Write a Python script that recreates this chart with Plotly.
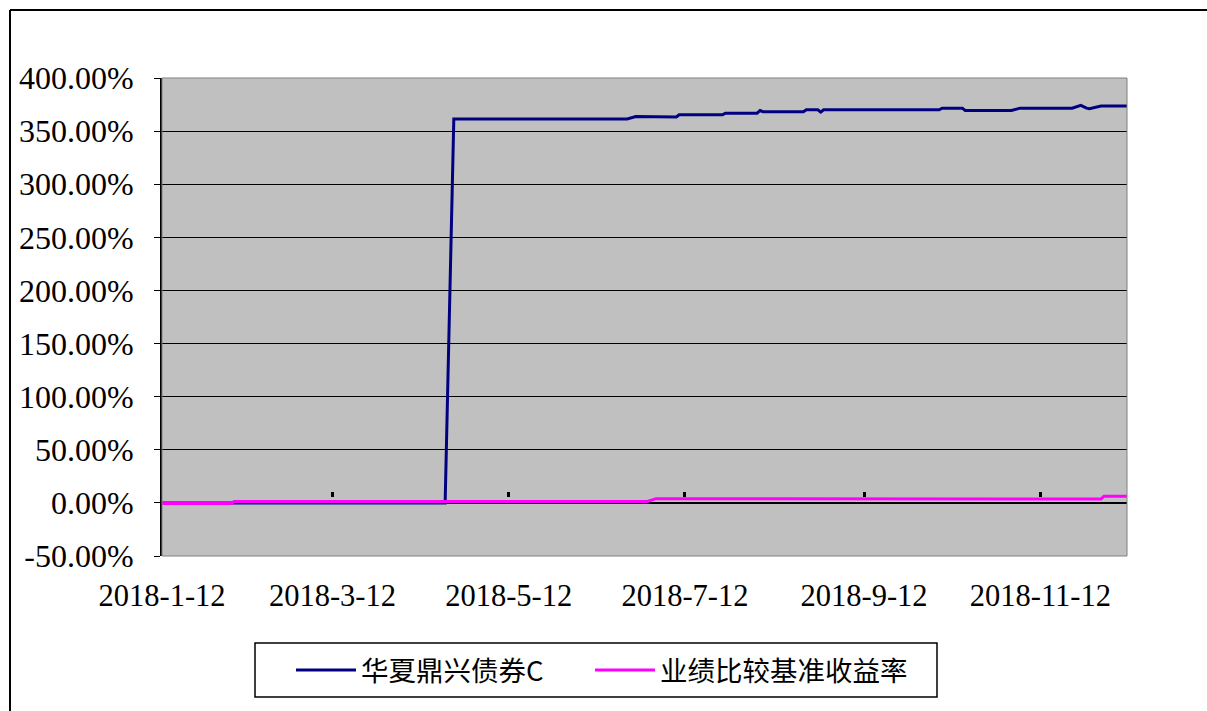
import plotly.graph_objects as go

# ---- data ----
fund_dates = ["2018-01-12", "2018-04-20", "2018-04-23", "2018-06-22", "2018-06-25",
              "2018-07-06", "2018-07-09", "2018-07-10", "2018-07-25", "2018-07-26",
              "2018-08-06", "2018-08-07", "2018-08-08", "2018-08-22", "2018-08-23",
              "2018-08-27", "2018-08-28", "2018-08-29", "2018-10-08", "2018-10-09",
              "2018-10-16", "2018-10-17", "2018-11-02", "2018-11-05", "2018-11-23",
              "2018-11-26", "2018-11-28", "2018-11-29", "2018-12-03", "2018-12-12"]
fund_values = [0.0, 0.0, 361.5, 361.5, 363.8,
               363.8, 363.3, 365.4, 365.4, 366.9,
               366.9, 369.4, 368.3, 368.3, 370.1,
               370.1, 367.9, 370.1, 370.1, 371.6,
               371.6, 369.4, 369.4, 371.6, 371.6,
               374.2, 371.6, 371.1, 373.6, 373.6]

bench_dates = ["2018-01-12", "2018-02-05", "2018-02-06", "2018-06-29", "2018-07-02",
               "2018-12-03", "2018-12-04", "2018-12-12"]
bench_values = [-0.5, -0.5, 1.3, 1.3, 4.0, 3.6, 6.2, 6.3]

fund_name = "华夏鼎兴债券C"
bench_name = "业绩比较基准收益率"

tick_dates = ["2018-01-12", "2018-03-12", "2018-05-12", "2018-07-12", "2018-09-12", "2018-11-12"]
tick_labels = ["2018-1-12", "2018-3-12", "2018-5-12", "2018-7-12", "2018-9-12", "2018-11-12"]
y_ticks = [-50, 0, 50, 100, 150, 200, 250, 300, 350, 400]
y_labels = ["-50.00%", "0.00%", "50.00%", "100.00%", "150.00%", "200.00%",
            "250.00%", "300.00%", "350.00%", "400.00%"]

x_range = ["2018-01-12", "2018-12-12"]

# ---- figure ----
fig = go.Figure()
fig.add_trace(go.Scatter(x=fund_dates, y=fund_values, mode="lines", name=fund_name,
                         line=dict(color="#000080", width=3), legend="legend"))
fig.add_trace(go.Scatter(x=bench_dates, y=bench_values, mode="lines", name=bench_name,
                         line=dict(color="#FF00FF", width=3), legend="legend2"))

serif = "Liberation Serif"
L, R, T, B = 162, 80, 78, 155
W, H = 1207, 711
pw, ph = W - L - R, H - T - B

def px_x(x):
    return (x - L) / pw

def px_y(y):
    return (H - B - y) / ph

legend_font = dict(family="Noto Sans CJK SC", size=27.5, color="black")

fig.update_layout(
    width=W, height=H,
    margin=dict(l=L, r=R, t=T, b=B, pad=0),
    paper_bgcolor="white",
    plot_bgcolor="#C0C0C0",
    showlegend=True,
    legend=dict(
        orientation="h",
        x=px_x(291), y=px_y(670), xanchor="left", yanchor="middle",
        bgcolor="rgba(0,0,0,0)", borderwidth=0,
        font=legend_font, itemwidth=60,
    ),
    legend2=dict(
        orientation="h",
        x=px_x(590), y=px_y(670), xanchor="left", yanchor="middle",
        bgcolor="rgba(0,0,0,0)", borderwidth=0,
        font=legend_font, itemwidth=60,
    ),
    xaxis=dict(
        type="date", range=x_range,
        tickvals=tick_dates, ticktext=tick_labels,
        ticks="", showgrid=False, zeroline=False, showline=False,
        tickfont=dict(family=serif, size=30.5, color="black"),
        ticklabelstandoff=18,
    ),
    xaxis2=dict(
        type="date", range=x_range, overlaying="x", anchor="free",
        position=px_y(497),
        tickvals=tick_dates, ticks="inside", ticklen=5, tickwidth=3, tickcolor="black",
        showticklabels=False, showgrid=False, zeroline=False, showline=False,
    ),
    yaxis=dict(
        range=[-50, 400], tickvals=y_ticks, ticktext=y_labels,
        showgrid=True, gridcolor="black", gridwidth=1,
        zeroline=True, zerolinecolor="black", zerolinewidth=2,
        showline=True, linecolor="black", linewidth=2,
        ticks="outside", ticklen=6, tickcolor="black", tickwidth=1,
        tickfont=dict(family=serif, size=32, color="black"),
        ticklabelstandoff=14,
    ),
    shapes=[
        # plot area border (grey, right/top/bottom)
        dict(type="rect", xref="paper", yref="paper", x0=0, x1=1, y0=0, y1=1,
             line=dict(color="#808080", width=1), layer="above"),
        # legend box
        dict(type="rect", xref="paper", yref="paper",
             x0=px_x(255), x1=px_x(937), y0=px_y(697), y1=px_y(643),
             line=dict(color="black", width=1.5), fillcolor="white", layer="above"),
        # outer chart frame
        dict(type="line", xref="paper", yref="paper",
             x0=px_x(10), x1=px_x(1215), y0=px_y(10), y1=px_y(10),
             line=dict(color="black", width=2)),
        dict(type="line", xref="paper", yref="paper",
             x0=px_x(10), x1=px_x(10), y0=px_y(10), y1=px_y(720),
             line=dict(color="black", width=2)),
    ],
)
# tick-mark axis needs a trace to be drawn
fig.add_trace(go.Scatter(x=[x_range[0]], y=[None], xaxis="x2", showlegend=False,
                         hoverinfo="skip"))

fig.write_html("out.html", config={"displayModeBar": False},
               post_script="document.body.style.margin='0';")
